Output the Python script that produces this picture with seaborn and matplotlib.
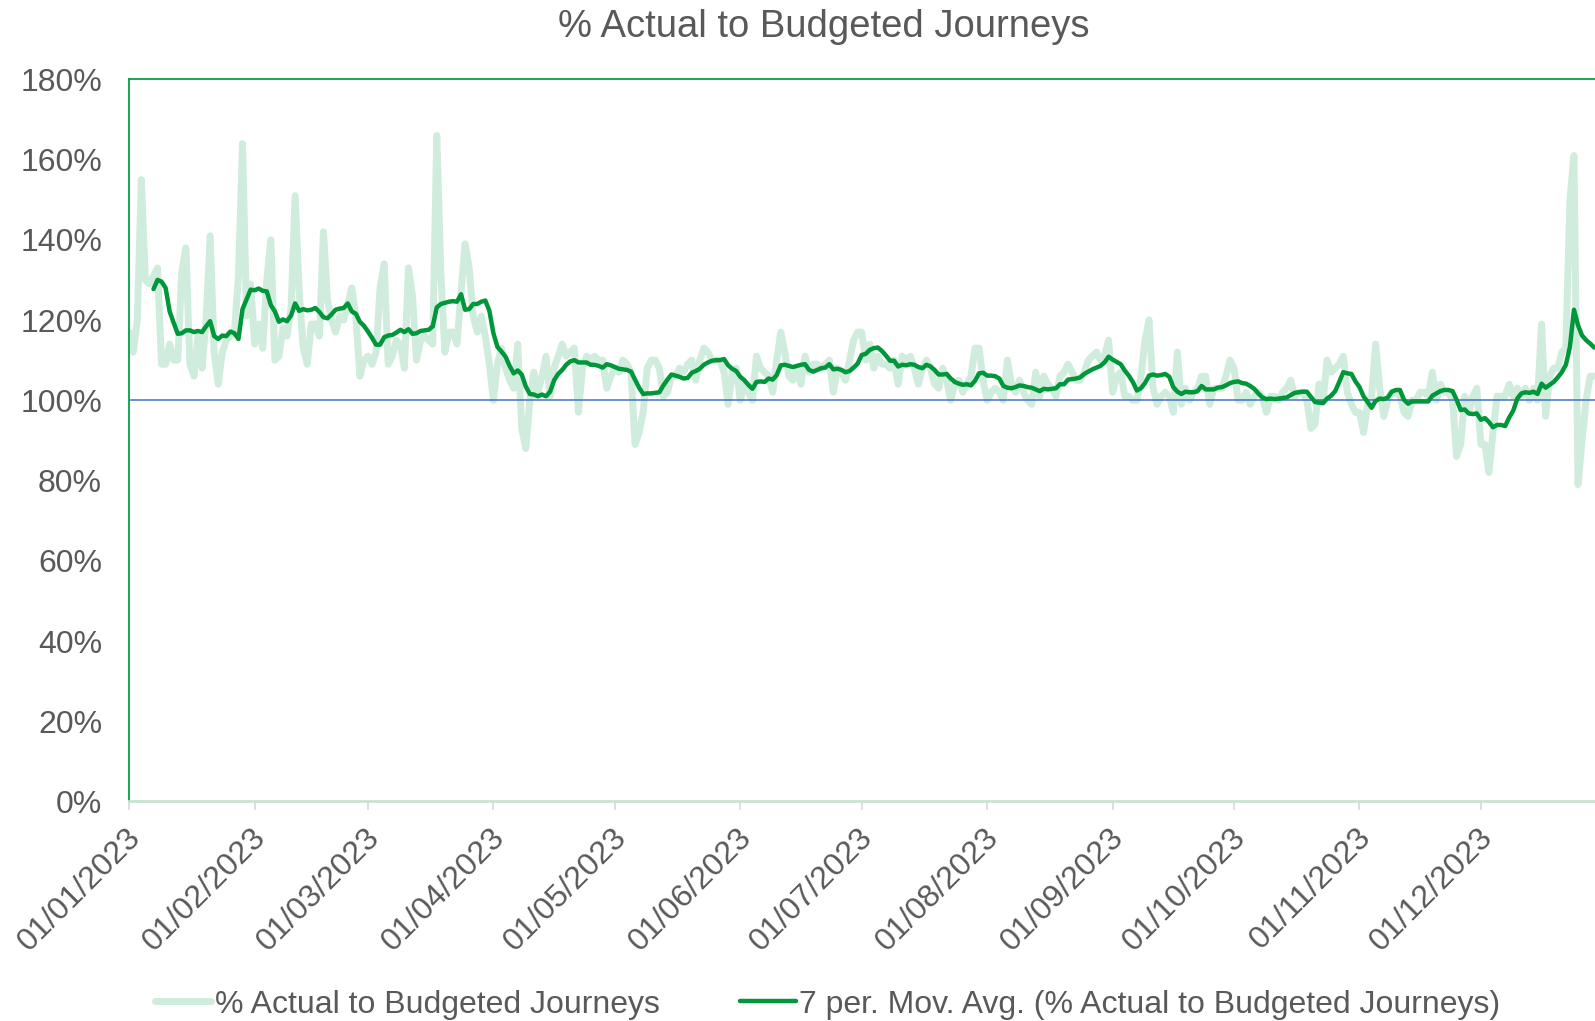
import numpy as np
import pandas as pd
import matplotlib
matplotlib.use("Agg")
import matplotlib.pyplot as plt
import matplotlib.transforms as mtrans
import seaborn as sns

# ---------------- data (daily % actual to budgeted journeys) ----------------
jan = [117, 112, 120, 155, 130, 129, 131, 133, 109, 109, 114, 110, 110, 132, 138, 109,
       106, 116, 108, 120, 141, 112, 104, 112, 115, 116, 117, 131, 164, 121, 129]
feb = [114, 119, 113, 130, 140, 110, 111, 118, 116, 123, 151, 127, 113, 109, 119, 119,
       116, 142, 125, 120, 117, 121, 120, 124, 128, 121, 106, 110]
mar = [111, 109, 112, 128, 134, 109, 111, 115, 114, 108, 133, 126, 110, 115, 116, 115,
       114, 166, 132, 112, 117, 117, 114, 127, 139, 133, 121, 117, 121, 116, 109]
apr = [100, 109, 113, 108, 105, 103, 114, 93, 88, 100, 107, 102, 106, 111, 101, 108,
       111, 114, 111, 112, 113, 97, 108, 111, 110, 111, 110, 110, 103, 106]
may = [108, 107, 110, 109, 107, 89, 92, 97, 108, 110, 110, 108, 101, 102, 106, 106,
       108, 107, 109, 110, 105, 110, 113, 112, 110, 110, 110, 107, 99, 107, 108]
jun = [100, 104, 102, 100, 111, 108, 107, 106, 102, 110, 117, 112, 106, 105, 108, 104,
       111, 107, 109, 109, 108, 109, 110, 102, 108, 107, 105, 110, 115, 117]
jul = [117, 110, 114, 108, 111, 109, 109, 108, 110, 104, 111, 110, 111, 108, 104, 108,
       110, 108, 104, 103, 108, 105, 100, 104, 105, 102, 104, 106, 113, 113, 105]
aug = [100, 102, 103, 102, 100, 110, 104, 102, 105, 102, 100, 99, 107, 101, 106, 104,
       103, 101, 106, 107, 109, 107, 105, 105, 107, 110, 111, 112, 110, 111, 115]
sep = [102, 106, 107, 101, 101, 100, 100, 106, 115, 120, 103, 99, 101, 102, 101, 97,
       112, 99, 103, 100, 102, 103, 106, 106, 99, 103, 103, 103, 106, 110]
oct_ = [108, 100, 100, 102, 99, 101, 102, 101, 97, 101, 101, 100, 102, 103, 105, 101,
        102, 102, 100, 93, 94, 104, 100, 110, 107, 108, 109, 111, 102, 99, 97]
nov = [97, 92, 99, 101, 114, 103, 96, 100, 102, 102, 101, 97, 96, 100, 100, 102,
       102, 101, 107, 100, 104, 102, 102, 100, 86, 89, 101, 97, 101, 103]
dec = [89, 89, 82, 92, 101, 101, 101, 104, 101, 103, 101, 103, 100, 103, 100, 119,
       96, 106, 108, 108, 112, 113, 150, 161, 79, 90, 100, 106, 106]

start_date = "2023-01-01"
target_pct = 100
ma_window = 7
month_ticks = ["01/01/2023", "01/02/2023", "01/03/2023", "01/04/2023", "01/05/2023",
               "01/06/2023", "01/07/2023", "01/08/2023", "01/09/2023", "01/10/2023",
               "01/11/2023", "01/12/2023"]
y_ticks = [0, 20, 40, 60, 80, 100, 120, 140, 160, 180]
title = "% Actual to Budgeted Journeys"
name_daily = "% Actual to Budgeted Journeys"
name_ma = "7 per. Mov. Avg. (% Actual to Budgeted Journeys)"

# ---------------- build frame ----------------
values = jan + feb + mar + apr + may + jun + jul + aug + sep + oct_ + nov + dec
dates = pd.date_range(start_date, periods=len(values), freq="D")
df = pd.DataFrame({"date": dates, "actual": values})
df["ma"] = df["actual"].rolling(ma_window).mean()

# ---------------- style ----------------
LIGHT = "#CFECDC"
DARK = "#00963A"
TEXT = "#595959"
BLUE = "#4472C4"

sns.set_theme(style="white")
plt.rcParams["font.family"] = ["Liberation Sans", "DejaVu Sans"]

fig = plt.figure(figsize=(15.95, 10.21), dpi=100)
ax = fig.add_axes([0.081, 0.215, 0.919, 0.7073])

sns.lineplot(data=df, x="date", y="actual", color=LIGHT, lw=5.0, ax=ax,
             label=name_daily, zorder=2)
ax.axhline(target_pct, color=BLUE, lw=1.1, zorder=3)
sns.lineplot(data=df, x="date", y="ma", color=DARK, lw=3.2, ax=ax,
             label=name_ma, zorder=4)

handles, labels = ax.get_legend_handles_labels()
if ax.get_legend() is not None:
    ax.get_legend().remove()

# x axis
t0 = pd.Timestamp(start_date)
ax.set_xlim(t0, t0 + pd.Timedelta(days=362.2))
tick_dates = pd.to_datetime(month_ticks, format="%d/%m/%Y")
ax.set_xticks(tick_dates)
ax.set_xticklabels(month_ticks, rotation=45, ha="right", va="center",
                   rotation_mode="anchor")
ax.tick_params(axis="x", length=6.5, width=1.2, color="#D9D9D9", direction="out",
               pad=16, labelsize=23, labelcolor=TEXT, bottom=True)
offset = mtrans.ScaledTranslation(0.07, 0, fig.dpi_scale_trans)
for lbl in ax.get_xticklabels():
    lbl.set_transform(lbl.get_transform() + offset)

# y axis
ax.set_ylim(0, 180)
ax.set_yticks(y_ticks)
ax.set_yticklabels([f"{v}%" for v in y_ticks])
ax.tick_params(axis="y", length=0, pad=19.5, labelsize=23, labelcolor=TEXT)
ax.set_xlabel("")
ax.set_ylabel("")
ax.grid(False)

# spines
ax.spines["right"].set_visible(False)
ax.spines["left"].set_color("#00A04A")
ax.spines["left"].set_linewidth(1.3)
ax.spines["top"].set_color("#00A04A")
ax.spines["top"].set_linewidth(1.3)
ax.spines["bottom"].set_color("#C7E4D2")
ax.spines["bottom"].set_linewidth(2.0)

# title
fig.text(0.5166, 0.974, title, ha="center", va="center", fontsize=27.5, color=TEXT)

# legend
leg = fig.legend(handles, labels, loc="center", bbox_to_anchor=(0.519, 0.016),
                 ncol=2, frameon=False, fontsize=23, handlelength=1.75,
                 handletextpad=0.12, columnspacing=2.5, borderpad=0,
                 borderaxespad=0)
for t in leg.get_texts():
    t.set_color(TEXT)

fig.savefig("out.png", dpi=100)
